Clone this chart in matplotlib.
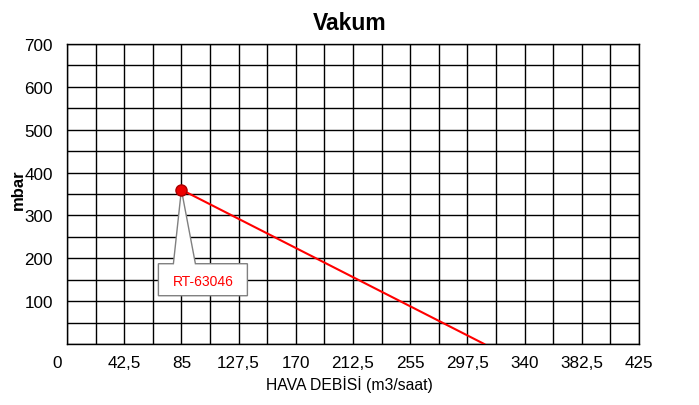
import matplotlib
matplotlib.use("Agg")
import matplotlib.pyplot as plt
import numpy as np
from matplotlib import transforms
from matplotlib.patches import Polygon

plt.rcParams['font.family'] = ['Liberation Sans', 'DejaVu Sans']

title = "Vakum"
x_label = "HAVA DEBİSİ (m3/saat)"
y_label = "mbar"
series_name = "RT-63046"

x_ticks = [0, 42.5, 85, 127.5, 170, 212.5, 255, 297.5, 340, 382.5, 425]
x_tick_labels = ["0", "42,5", "85", "127,5", "170", "212,5", "255", "297,5", "340", "382,5", "425"]
y_ticks = [100, 200, 300, 400, 500, 600, 700]
y_tick_labels = ["100", "200", "300", "400", "500", "600", "700"]

flow = [85, 310]
vacuum = [360, 0]
point_flow = [85]
point_vacuum = [360]

fig = plt.figure(figsize=(6.99, 4.06), dpi=100)
ax = fig.add_axes([67/699, 61/406, 572/699, 300/406])
ax.set_xlim(0, 425)
ax.set_ylim(0, 700)

ax.set_xticks(x_ticks)
ax.set_xticklabels(x_tick_labels, fontsize=12.3)
ax.set_xticks(np.arange(0, 425.01, 21.25), minor=True)
ax.set_yticks(y_ticks)
ax.set_yticklabels(y_tick_labels, fontsize=12.3)
ax.set_yticks(np.arange(0, 700.01, 50), minor=True)
ax.tick_params(axis='both', which='both', length=0)
ax.tick_params(axis='x', pad=8)
ax.tick_params(axis='y', pad=10)
ax.grid(True, which='both', color='black', linewidth=1.0)
ax.set_axisbelow(True)
for s in ax.spines.values():
    s.set_color('black')
    s.set_linewidth(1.0)

# shift "0" label left like the reference
lbl0 = ax.get_xticklabels()[0]
lbl0.set_transform(lbl0.get_transform() + transforms.ScaledTranslation(-10/100, 0, fig.dpi_scale_trans))

ax.plot(flow, vacuum, color='#ff0000', linewidth=1.5, zorder=3)
ax.plot(point_flow, point_vacuum, 'o', color='#ee0000', markeredgecolor='#aa0000',
        markersize=8, zorder=5)

fig.text(0.5, 1 - 23/406, title, ha='center', va='center', fontsize=16.5, fontweight='bold')
fig.text(18/699, 1 - 190/406, y_label, ha='center', va='center', rotation=90,
         fontsize=12, fontweight='bold')
fig.text(349/699, 1 - 385/406, x_label, ha='center', va='center', fontsize=11.3)

# callout (pixel offsets relative to the data point)
offs = transforms.ScaledTranslation(point_flow[0], point_vacuum[0], ax.transData)
trans = transforms.Affine2D().scale(1.0) + offs
verts = [(0, 0), (14, -74), (66, -74), (66, -106), (-23, -106), (-23, -74), (-8, -74)]
poly = Polygon(verts, closed=True, facecolor='white', edgecolor='#808080', linewidth=1.0,
               transform=trans, zorder=4, clip_on=False)
ax.add_patch(poly)
ax.text(0, 0, series_name, color='#ff0000', fontsize=10, ha='center', va='center',
        transform=transforms.Affine2D().translate(21.5, -91.5) + offs, zorder=6)

fig.savefig("out.png", dpi=100)
